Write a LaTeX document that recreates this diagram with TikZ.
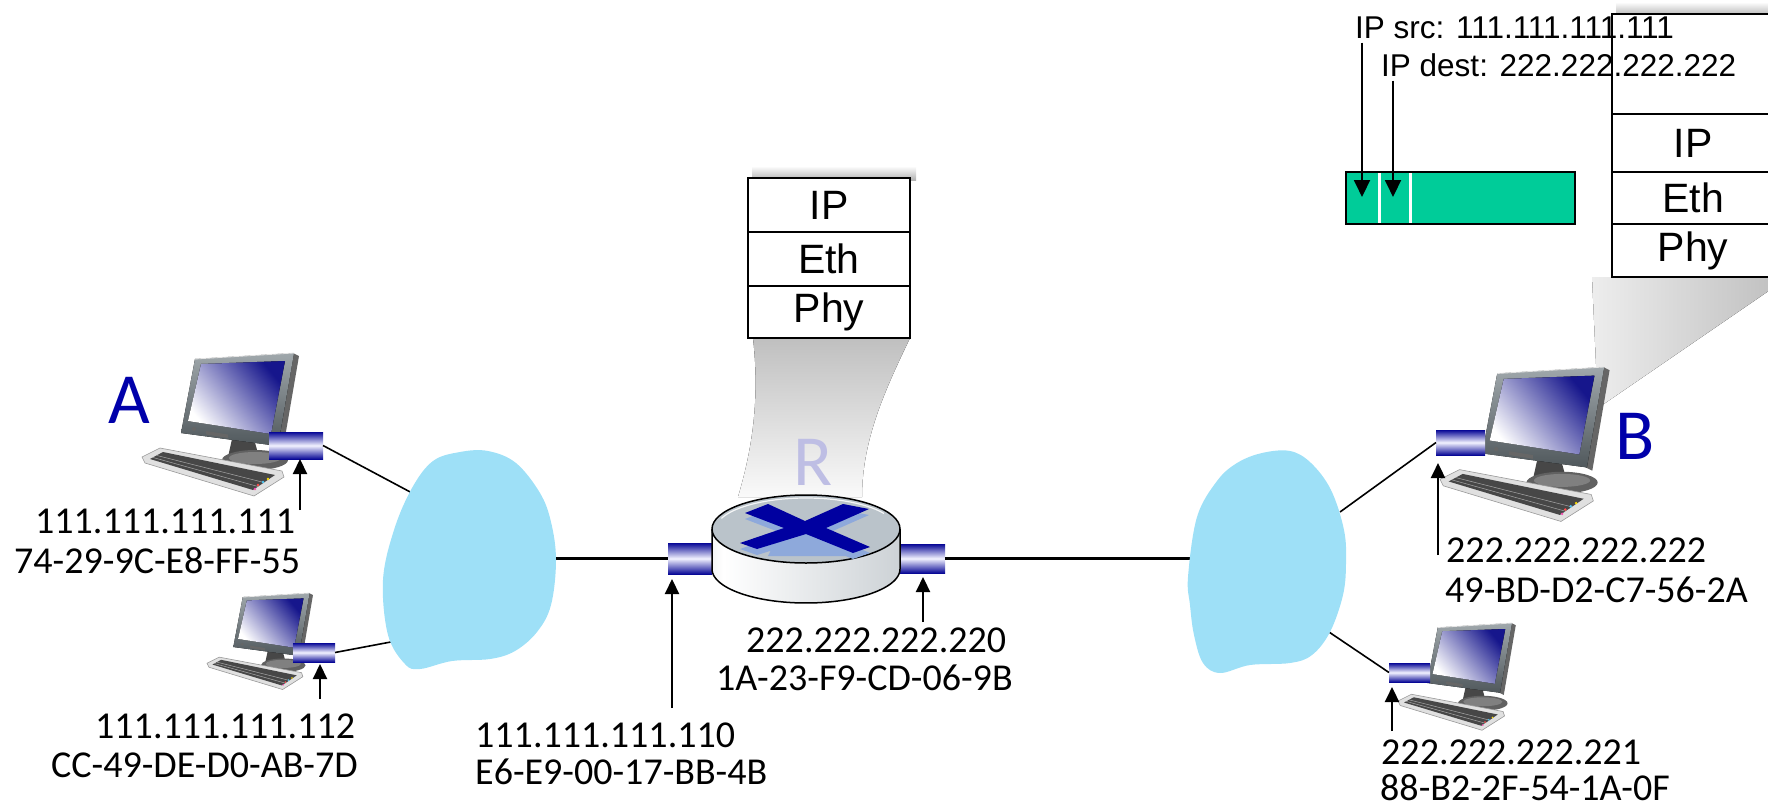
\documentclass[tikz,border=0pt]{standalone}
\usepackage{fontspec}
\setmainfont{Carlito}
\newfontfamily\carl{Carlito}
\newfontfamily\arialf{Liberation Sans}
\usetikzlibrary{arrows.meta,calc}
\definecolor{cloudblue}{RGB}{158,224,247}
\definecolor{nicblue}{RGB}{8,8,150}
\definecolor{nicwhite}{RGB}{242,242,255}
\definecolor{letterblue}{RGB}{0,0,170}
\definecolor{rlav}{RGB}{190,190,228}
\definecolor{pktgreen}{RGB}{0,204,153}
\definecolor{crossdark}{RGB}{0,0,160}
\definecolor{crosslight}{RGB}{142,169,219}
\definecolor{rtop}{RGB}{186,195,202}
\definecolor{rsideL}{RGB}{158,166,172}
\definecolor{rsideR}{RGB}{178,186,192}
\definecolor{screenblue}{RGB}{22,22,140}
\definecolor{bezelL}{RGB}{160,168,172}
\definecolor{bezelD}{RGB}{80,88,92}
\pgfdeclarehorizontalshading{rside}{100bp}{color(0bp)=(rsideL); color(28bp)=(white); color(100bp)=(rsideR)}
\tikzset{
  pics/computer/.style={code={
    % neck
    \fill[black!72] (90,86) -- (112,86) -- (117,104) -- (86,104) -- cycle;
    % monitor side thickness
    \fill[black!60] (151,0) -- (157,3) -- (141,96) -- (135,93) -- cycle;
    % bezel
    \fill[top color=bezelL, bottom color=bezelD] (53,6) -- (152,0) -- (136,93) -- (39,80) -- cycle;
    \draw[black!10, line width=0.8pt] (53,6) -- (152,0);
    % screen
    \fill[bottom color=white, top color=screenblue, shading angle=-50] (59,11) -- (143,8) -- (129,81) -- (46,68) -- cycle;
    % buttons
    \fill[black!60] (52,76) circle (2pt);
    \fill[black!60] (64,78) -- (86,81.5) -- (86,85) -- (64,81.5) -- cycle;
    % base
    \fill[black!62] (113,107) ellipse (33pt and 10pt);
    \fill[black!50] (113,105) ellipse (26pt and 6pt);
    % keyboard
    \filldraw[fill=black!12, draw=black!40, line width=0.6pt] (18,95) -- (0,104) -- (3,110) -- (112,143) -- (142,124) -- (140,118) -- cycle;
    \fill[black!72] (21,99) -- (8,106) -- (111,137) -- (133,122) -- cycle;
    \draw[black!35, line width=0.5pt] (15,102.5) -- (122,129.5) (11,104.5) -- (116,133.5);
    \fill[red!70] (116,132) circle (1.3pt);
    \fill[cyan!70] (121,129) circle (1.3pt);
    \fill[yellow!80!orange] (126,126) circle (1.3pt);
    \fill[magenta!70] (113,136) circle (1.3pt);
  }},
  nic/.style={rectangle, inner sep=0pt, outer sep=0pt, top color=nicblue, bottom color=nicblue, middle color=nicwhite},
  layer/.style={draw, line width=2pt, fill=white, minimum width=162pt, inner sep=0pt, font=\arialf\fontsize{41}{49}\selectfont},
  addr/.style={font=\carl\fontsize{38}{45}\selectfont, inner sep=0pt, anchor=base west},
  hostletter/.style={font=\carl\fontsize{72}{80}\selectfont, inner sep=0pt, anchor=base west},
  iplabel/.style={font=\arialf\fontsize{31.5}{38}\selectfont, inner sep=0pt, anchor=base west},
  arr/.style={line width=2.2pt, -{Triangle[width=14pt,length=15pt]}},
  pktarr/.style={line width=2pt, -{Triangle[width=16pt,length=17pt]}},
  link/.style={line width=1.6pt},
  trunk/.style={line width=2.8pt},
  cloud/.style={fill=cloudblue}
}
\begin{document}
\begin{tikzpicture}[x=1pt,y=-1pt]
\useasboundingbox (0,0) rectangle (1768,811);
\clip (0,0) rectangle (1768,811);

% ---------- funnels / shadows ----------
\fill[top color=gray!50, bottom color=gray!4] (753,338) -- (910,338) .. controls (885,390) and (862,440) .. (862,497) -- (738,497) .. controls (752,450) and (760,400) .. (753,338) -- cycle;
\fill[left color=gray!14, right color=gray!48] (1592,277) -- (1770,277) -- (1770,290) -- (1598,408) -- cycle;
\fill[top color=white, bottom color=gray!60] (752,166) rectangle (916,180);
\fill[top color=white, bottom color=gray!60] (1616,2) rectangle (1770,16);

% ---------- protocol stacks ----------
\node[layer, minimum height=54pt] (rIP)  at (829,205) {IP};
\node[layer, minimum height=54pt] (rEth) at (829,259) {Eth};
\node[layer, minimum height=52pt] (rPhy) at (829,312) {Phy};

\node[layer, minimum height=100pt] (bTop) at (1693,64) {};
\node[layer, minimum height=58pt] (bIP)  at (1693,143) {IP};
\node[layer, minimum height=52pt] (bEth) at (1693,198) {Eth};
\node[layer, minimum height=53pt] (bPhy) at (1693,250.5) {Phy};

% ---------- datagram ----------
\node[draw, line width=2pt, fill=pktgreen, minimum width=229pt, minimum height=52pt, inner sep=0pt] (packet) at (1460.5,198) {};
\fill[white] (1378,173) rectangle (1381,223);
\fill[white] (1409,173) rectangle (1412,223);

\node[iplabel] (ipsrc) at (1355,38) {IP src: 111.111.111.111};
\node[iplabel] (ipdst) at (1381,76) {IP dest: 222.222.222.222};
\coordinate (srcTip) at (1362,197);
\coordinate (dstTip) at (1393,197);
\draw[pktarr, shorten <=4pt] (ipsrc.south -| srcTip) -- (srcTip);
\draw[pktarr, shorten <=4pt] (ipdst.south -| dstTip) -- (dstTip);

% ---------- hosts ----------
\pic[shift={(142,353)}, scale=1.0] {computer};
\pic[shift={(207,593)}, scale=0.675] {computer};
\pic[shift={(1440,367)}, scale=1.08] {computer};
\pic[shift={(1398,623)}, scale=0.75] {computer};

% ---------- interfaces ----------
\node[nic, minimum width=54pt, minimum height=27pt] (nicA)  at (296,445.5) {};
\node[nic, minimum width=42pt, minimum height=19pt] (nic2)  at (314,652.5) {};
\node[nic, minimum width=44pt, minimum height=31pt] (nicRL) at (690,558.5) {};
\node[nic, minimum width=45pt, minimum height=29pt] (nicRR) at (922.5,558.5) {};
\node[nic, minimum width=49pt, minimum height=25pt] (nicB)  at (1460.5,442.5) {};
\node[nic, minimum width=41pt, minimum height=19pt] (nic4)  at (1409.5,672.5) {};

% ---------- router ----------
\shade[shading=rside] (712,529) -- plot[domain=180:0, samples=60] ({806+94*cos(\x)},{569+34*sin(\x)}) -- (900,529) -- plot[domain=0:180, samples=60] ({806+94*cos(\x)},{529+34*sin(\x)}) -- cycle;
\draw[line width=1.5pt] (712,529) -- (712,569) plot[domain=180:0, samples=60] ({806+94*cos(\x)},{569+34*sin(\x)}) -- (900,529);
\filldraw[fill=rtop, line width=1.5pt] (806,529) ellipse (94pt and 34pt);
\draw[white!85!rtop, line width=1.2pt] plot[domain=200:330, samples=40] ({806+90*cos(\x)},{529+31*sin(\x)});
\fill[crosslight] (784,524) -- (828,524) -- (846,556) -- (768,556) -- cycle;
\fill[crosslight, shift={(0,6)}] (805,521) -- (843,504) -- (869,509) -- (826,528) -- (870,547) -- (853,553) -- (806,534) -- (757,549) -- (740,543) -- (784,528) -- (745,513) -- (768,504) -- cycle;
\fill[crossdark] (805,521) -- (843,504) -- (869,509) -- (826,528) -- (870,547) -- (853,553) -- (806,534) -- (757,549) -- (740,543) -- (784,528) -- (745,513) -- (768,504) -- cycle;

% ---------- host letters ----------
\node[hostletter, text=letterblue] (lblA) at (108,423) {A};
\node[hostletter, text=letterblue] (lblB) at (1615,459) {B};
\node[hostletter, text=rlav] (lblR) at (793,485) {R};

% ---------- links ----------
\coordinate (cLa) at (414,494);
\coordinate (cL2) at (396,641);
\coordinate (cLr) at (552,558.5);
\coordinate (cRl) at (1192,558.5);
\coordinate (cRb) at (1340,512);
\coordinate (cR4) at (1326,630);
\draw[link] (nicA.east) -- (cLa);
\draw[link] (nic2.east) -- (cL2);
\draw[trunk] (cLr) -- (nicRL.west);
\draw[trunk] (nicRR.east) -- (cRl);
\draw[link] (nicB.west) -- (cRb);
\draw[link] (nic4.west) -- (cR4);

% ---------- clouds (subnets) ----------
\fill[cloud] plot[smooth cycle, tension=0.6] coordinates {(383,580) (388,635) (405,664) (420,669) (452,661) (490,659) (515,651) (537,632) (551,605) (556,560) (551,522) (540,493) (516,463) (488,451) (460,452) (433,461) (412,488) (394,530)};
\fill[cloud] plot[smooth cycle, tension=0.6] coordinates {(1188,577) (1190,605) (1194,635) (1203,663) (1220,673) (1250,665) (1290,663) (1312,655) (1330,632) (1343,595) (1346,563) (1344,530) (1331,490) (1311,463) (1290,451) (1262,453) (1237,463) (1217,481) (1197,517)};

% ---------- address labels ----------
\node[addr] (ipA)   at (35,533)   {111.111.111.111};
\node[addr] (macA)  at (14,573)   {74-29-9C-E8-FF-55};
\node[addr] (ip2)   at (95,738)   {111.111.111.112};
\node[addr] (mac2)  at (51,777)   {CC-49-DE-D0-AB-7D};
\node[addr] (ipRL)  at (475,747)  {111.111.111.110};
\node[addr] (macRL) at (475,784)  {E6-E9-00-17-BB-4B};
\node[addr] (ipRR)  at (746,652)  {222.222.222.220};
\node[addr] (macRR) at (716,690)  {1A-23-F9-CD-06-9B};
\node[addr] (ipB)   at (1446,562) {222.222.222.222};
\node[addr] (macB)  at (1445,602) {49-BD-D2-C7-56-2A};
\node[addr] (ip4)   at (1381,764) {222.222.222.221};
\node[addr] (mac4)  at (1380,800) {88-B2-2F-54-1A-0F};

% ---------- pointer arrows ----------
\coordinate (arrA)  at (300,510);
\coordinate (arr2)  at (320,699);
\coordinate (arrRL) at (672,708);
\coordinate (arrRR) at (923,622);
\coordinate (arrB)  at (1438,555);
\coordinate (arr4)  at (1392,731);
\draw[arr] (arrA) -- (arrA |- nicA.south);
\draw[arr, shorten >=2pt] (arr2) -- (arr2 |- nic2.south);
\draw[arr, shorten >=5pt] (arrRL) -- (arrRL |- nicRL.south);
\draw[arr, shorten >=4pt] (arrRR) -- (arrRR |- nicRR.south);
\draw[arr, shorten >=8pt] (arrB) -- (arrB |- nicB.south);
\draw[arr, shorten >=5pt] (arr4) -- (arr4 |- nic4.south);
\end{tikzpicture}
\end{document}
